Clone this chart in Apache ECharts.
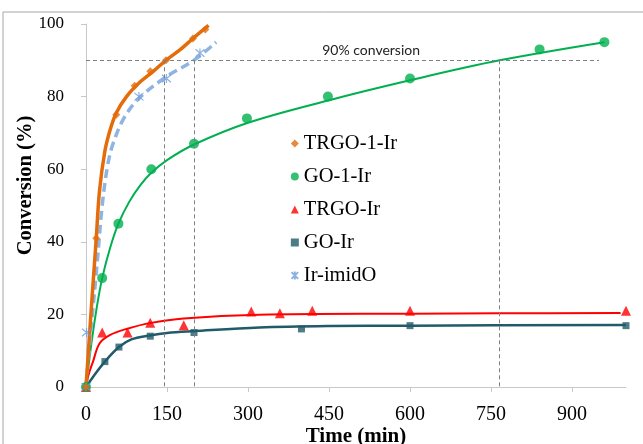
<!DOCTYPE html>
<html>
<head>
<meta charset="utf-8">
<script src="https://cdn.jsdelivr.net/npm/echarts@6/dist/echarts.min.js"></script>
<style>html,body{margin:0;padding:0;background:#fff;}#c{width:643px;height:444px;}</style>
</head>
<body>
<div id="c"></div>
<script>
// ---- Data ----
var xTicks = [0, 150, 300, 450, 600, 750, 900];
var yTicks = [0, 20, 40, 60, 80, 100];

// measured points [time(min), conversion(%)]
var trgo1Ir = [[0,0],[19,41],[56,75],[90,83],[119,87],[148,90],[198,96],[221,98.5]];
var go1Ir   = [[0,0],[30,30],[60,45],[121,60],[200,67],[298,74],[448,80],[600,85],[840,93],[960,95]];
var trgoIr  = [[0,0],[30,15],[77,15],[119,17.7],[181,17],[306,20.8],[359,20.3],[419,21],[600,21],[1000,21]];
var goIr    = [[0,0],[35,7],[61,11],[119,14],[200,15],[399,16],[600,16.9],[1000,16.9]];
var irImidO = [[0,0],[1,15],[98,80],[149,85],[211,92]];

// fitted curves
var trgo1IrFit = [[0,0],[10,22],[19,41],[25,54],[35,65],[45,71],[56,75.5],[75,80],[100,84],[125,87],[148,90],[175,93],[198,96],[227,99.6]];
var go1IrFit   = [[0,0],[10,12],[20,22],[30,30],[45,38.5],[60,45],[80,51],[100,55.5],[121,59],[150,62.5],[200,66.8],[300,72.8],[450,79],[600,84.5],[766,90],[960,95]];
var trgoIrFit  = [[0,0],[5,3.5],[13,7],[25,12],[44,14.3],[75,16],[118,17.6],[181,18.9],[321,19.9],[600,20.2],[766,20.3],[990,20.4]];
var goIrFit    = [[0,0],[15,3.2],[35,7],[61,11],[84,13.1],[118,14.2],[150,14.9],[200,15.4],[321,16.4],[450,16.8],[600,16.9],[1000,17.1]];
var irImidOFit = [[0,0],[10,17],[20,33],[30,50],[40,61],[50,67],[70,74],[98,79.5],[149,85.5],[200,90],[241,95]];

// reference guide lines
var target = 90;
var guideTimes = [144, 200, 766];
var guideStart = 0;
var guideEnd = 950;
var guideLabel = '90% conversion';
var guideLabelPos = [528, 92.6];

var serif = 'Liberation Serif';
var chart = echarts.init(document.getElementById('c'));

function fit(name, data, color, width, type) {
  return {
    name: name, type: 'line', data: data, smooth: 0.35, showSymbol: false, silent: true,
    lineStyle: {color: color, width: width, type: type || 'solid'}, z: 2
  };
}
function pts(name, data, symbol, size, color, extra) {
  var s = {
    name: name, type: 'scatter', data: data, symbol: symbol, symbolSize: size,
    itemStyle: {color: color}, z: 4
  };
  if (extra) for (var k in extra) s[k] = extra[k];
  return s;
}

var guideLines = [[{coord:[guideStart,target]},{coord:[guideEnd,target]}]];
guideTimes.forEach(function(t){ guideLines.push([{coord:[t,target]},{coord:[t,0]}]); });

var asterisk = 'path://M0,0L10,10M10,0L0,10M5,-1L5,11';

chart.setOption({
  animation: false,
  backgroundColor: '#fff',
  graphic: [{
    type: 'rect', shape: {x: 3, y: 12, width: 700, height: 500},
    style: {fill: 'none', stroke: '#a6a6a6', lineWidth: 1}, silent: true
  }],
  grid: {left: 86, right: 17, top: 24, bottom: 57, containLabel: false, outerBoundsMode: 'none'},
  xAxis: {
    type: 'value', min: 0, max: 1000, interval: 150,
    name: 'Time (min)', nameLocation: 'middle', nameGap: 39, nameMoveOverlap: false,
    nameTextStyle: {fontFamily: serif, fontWeight: 'bold', fontSize: 21, color: '#000'},
    axisLine: {lineStyle: {color: '#c8c8c8', width: 1}},
    axisTick: {show: true, length: 5, lineStyle: {color: '#c8c8c8'}, customValues: xTicks},
    axisLabel: {fontFamily: serif, fontSize: 20, color: '#000', margin: 18, customValues: xTicks},
    splitLine: {show: false}
  },
  yAxis: {
    type: 'value', min: 0, max: 100, interval: 20,
    name: 'Conversion (%)', nameLocation: 'middle', nameGap: 50, nameMoveOverlap: false,
    nameTextStyle: {fontFamily: serif, fontWeight: 'bold', fontSize: 20.5, color: '#000', padding: [0,0,0,40]},
    axisLine: {show: true, lineStyle: {color: '#c8c8c8', width: 1}},
    axisTick: {show: true, length: 5, lineStyle: {color: '#c8c8c8'}},
    axisLabel: {fontFamily: serif, fontSize: 17, color: '#000', margin: 22, customValues: yTicks},
    splitLine: {show: false}
  },
  legend: {
    orient: 'vertical', left: 284, top: 128, itemGap: 12, itemWidth: 8, itemHeight: 8,
    textStyle: {fontFamily: serif, fontSize: 20.5, color: '#000', lineHeight: 20},
    data: ['TRGO-1-Ir', 'GO-1-Ir', 'TRGO-Ir', 'GO-Ir', 'Ir-imidO']
  },
  series: [
    {
      name: 'guides', type: 'line', data: [], silent: true,
      markLine: {
        silent: true, symbol: 'none', label: {show: false},
        lineStyle: {color: '#808080', type: [4, 3], width: 1},
        data: guideLines
      },
      markPoint: {
        silent: true, symbol: 'circle', symbolSize: 1,
        itemStyle: {color: 'rgba(0,0,0,0)'},
        label: {show: true, position: 'inside', formatter: guideLabel, fontFamily: 'Lato', fontSize: 14, color: '#222'},
        data: [{coord: guideLabelPos, value: 0}]
      }
    },
    fit('goFit', goIrFit, '#215B69', 2.5),
    fit('trgoFit', trgoIrFit, '#FF0000', 2),
    fit('go1Fit', go1IrFit, '#00B050', 2),
    fit('imidFit', irImidOFit, '#8DB4E2', 3.5, [9, 5]),
    fit('trgo1Fit', trgo1IrFit, '#E46C0A', 3.5),
    pts('GO-Ir', goIr, 'rect', 7, '#215B69'),
    pts('TRGO-Ir', trgoIr, 'triangle', 10, '#FF0000'),
    pts('GO-1-Ir', go1Ir, 'circle', 10, '#00B050'),
    pts('Ir-imidO', irImidO, asterisk, 9, '#8DB4E2', {itemStyle: {color: 'none', borderColor: '#6E9FD9', borderWidth: 1.2}}),
    pts('TRGO-1-Ir', trgo1Ir, 'diamond', 8, '#E46C0A')
  ]
});
</script>
</body>
</html>
